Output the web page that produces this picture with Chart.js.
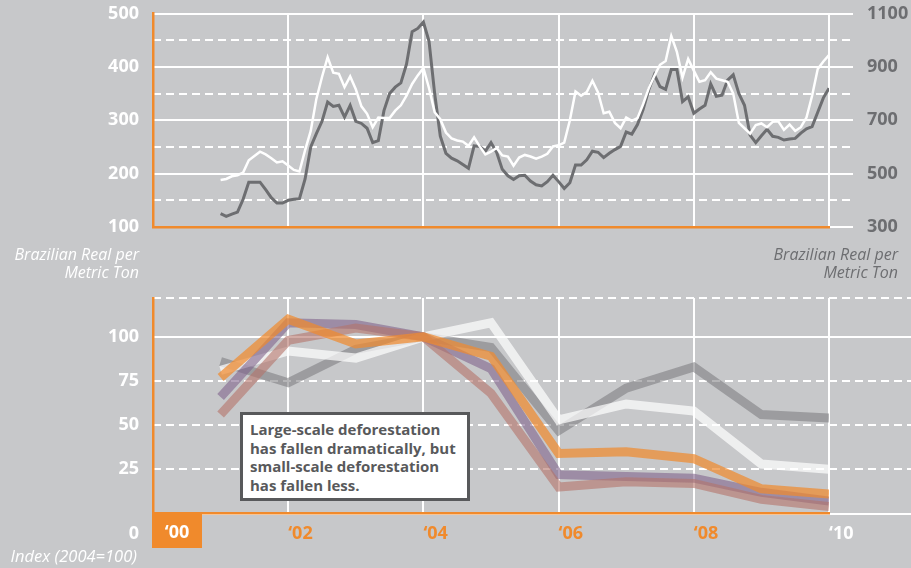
<!DOCTYPE html>
<html>
<head>
<meta charset="utf-8">
<title>Prices and deforestation</title>
<script src="https://cdn.jsdelivr.net/npm/chart.js@4.4.1/dist/chart.umd.min.js"></script>
<style>
  body { margin: 0; background: #c7c8ca; font-family: "Open Sans", sans-serif; }
  #page { position: relative; width: 911px; height: 568px; overflow: hidden; }
  canvas { position: absolute; left: 0; }
  #prices { top: 0; }
  #index { top: 290px; }
  .unit { position: absolute; font-style: italic; font-weight: 400; font-size: 16px; line-height: 18px; text-align: right; white-space: nowrap; }
  #unit-left { right: 772px; top: 245px; color: #fff; }
  #unit-right { right: 13px; top: 245px; color: #6d6e71; }
  #unit-index { right: 774px; top: 547px; color: #fff; font-size: 16.5px; }
  #zero { position: absolute; right: 772px; top: 521px; color: #fff; font-weight: 700; font-size: 18px; line-height: 22px; }
  #start-year { position: absolute; left: 152px; top: 514px; width: 50px; height: 34px; background: #f08a2c; color: #fff; font-weight: 700; font-size: 18px; line-height: 34px; text-align: center; }
  #note { position: absolute; left: 240px; top: 412px; width: 230px; height: 89px; box-sizing: border-box; border: 3px solid #58595b; background: #fff; color: #58595b; font-weight: 700; font-size: 15px; line-height: 18.5px; padding: 5px 0 0 7px; white-space: nowrap; }
</style>
</head>
<body>
<div id="page">
  <canvas id="prices" width="911" height="290"></canvas>
  <canvas id="index" width="911" height="278"></canvas>
  <div class="unit" id="unit-left">Brazilian Real per<br>Metric Ton</div>
  <div class="unit" id="unit-right">Brazilian Real per<br>Metric Ton</div>
  <div class="unit" id="unit-index">Index (2004=100)</div>
  <div id="zero">0</div>
  <div id="start-year">‘00</div>
  <div id="note">Large-scale deforestation<br>has fallen dramatically, but<br>small-scale deforestation<br>has fallen less.</div>
</div>
<script>
// monthly prices, first value is January 2001
const priceStartYear = 2001;
const priceWhite = [
  188, 190, 195, 197, 202, 225, 233, 241, 236, 229, 221, 223,
  215, 207, 204, 244, 280, 340, 381, 418, 389, 387, 362, 382,
  358, 326, 312, 287, 305, 304, 304, 318, 328, 346, 368, 384,
  398, 360, 315, 302, 277, 266, 262, 260, 252, 268, 251, 236,
  241, 248, 234, 232, 215, 230, 235, 232, 228, 232, 237, 251,
  253, 258, 300, 354, 346, 353, 374, 352, 313, 316, 295, 285,
  305, 299, 304, 330, 360, 383, 404, 411, 458, 428, 380, 415,
  393, 372, 375, 390, 378, 375, 372, 350, 295, 285, 275, 291,
  294, 287, 297, 298, 282, 292, 280, 287, 305, 346, 396, 410,
  422
];
const priceGrey = [
  350, 340, 348, 356, 404, 468, 468, 468, 440, 410, 390, 390,
  400, 404, 406, 480, 600, 650, 696, 768, 752, 756, 712, 756,
  696, 688, 670, 616, 624, 736, 800, 824, 840, 910, 1032, 1044,
  1068, 996, 800, 640, 576, 558, 548, 534, 520, 604, 602, 584,
  616, 580, 516, 492, 478, 492, 494, 472, 458, 454, 470, 494,
  470, 444, 466, 532, 532, 552, 584, 580, 560, 576, 590, 602,
  656, 648, 684, 740, 814, 870, 826, 816, 890, 890, 770, 788,
  726, 742, 756, 836, 790, 794, 850, 870, 800, 756, 644, 616,
  642, 666, 640, 636, 626, 630, 632, 652, 668, 676, 730, 784,
  820
];
const leftLabels = [100, 200, 300, 400, 500];
const rightLabels = [300, 500, 700, 900, 1100];

// deforestation index, 2004 = 100
const years = [2001, 2002, 2003, 2004, 2005, 2006, 2007, 2008, 2009, 2010];
const seriesGrey = [86, 74, 93, 100, 94, 47, 71, 83, 56, 54];
const seriesLight = [81, 92, 88, 100, 108, 53, 62, 58, 28, 25];
const seriesOrange = [77, 110, 96, 100, 89, 34, 35, 31, 14, 11];
const seriesPurple = [66, 108, 107, 100, 82, 22, 21, 20, 12, 7];
const seriesBrown = [56, 98, 105, 100, 68, 15, 18, 17, 8, 4];
const indexLabels = [25, 50, 75, 100];
const yearLabels = { 2002: '‘02', 2004: '‘04', 2006: '‘06', 2008: '‘08', 2010: '‘10' };

const ORANGE = '#f08a2c';
const DARK = '#6d6e71';
const DASH = [8, 5];

Chart.defaults.font.family = '"Open Sans", sans-serif';
Chart.defaults.animation = false;

// force exact axis sizes so both panels share the same plot box
function boxSize(size) {
  return scale => {
    if (scale.isHorizontal()) scale.height = size;
    else scale.width = size;
    scale.paddingTop = 0;
    scale.paddingBottom = 0;
    scale.paddingLeft = 0;
    scale.paddingRight = 0;
  };
}

const tickFont = { size: 18, weight: '700' };
const noPlugins = { legend: { display: false }, tooltip: { enabled: false } };

new Chart(document.getElementById('prices'), {
  type: 'line',
  data: {
    datasets: [
      {
        data: priceWhite.map((v, i) => ({ x: priceStartYear + i / 12, y: v })),
        yAxisID: 'yLeft',
        borderColor: '#ffffff',
        borderWidth: 2.5
      },
      {
        data: priceGrey.map((v, i) => ({ x: priceStartYear + i / 12, y: v })),
        yAxisID: 'yRight',
        borderColor: DARK,
        borderWidth: 3
      }
    ]
  },
  options: {
    responsive: false,
    events: [],
    layout: { padding: { top: 13.5 } },
    elements: { point: { radius: 0 }, line: { tension: 0 } },
    plugins: noPlugins,
    scales: {
      x: {
        type: 'linear', min: 2000, max: 2010,
        ticks: { display: false, stepSize: 2 },
        grid: { color: '#ffffff', lineWidth: 2, drawTicks: false },
        border: { color: ORANGE, width: 2.5 },
        afterFit: boxSize(63)
      },
      yLeft: {
        position: 'left', min: 100, max: 500,
        ticks: {
          stepSize: 50, padding: 14, color: '#ffffff', font: tickFont,
          callback: v => leftLabels.includes(v) ? String(v) : ''
        },
        grid: { display: false, drawTicks: false },
        border: { color: ORANGE, width: 2.5 },
        afterFit: boxSize(153)
      },
      yRight: {
        position: 'right', min: 300, max: 1100,
        ticks: {
          stepSize: 100, padding: 14, color: DARK, font: tickFont,
          callback: v => rightLabels.includes(v) ? String(v) : ''
        },
        grid: {
          color: '#ffffff', lineWidth: 2, tickLength: 24, tickColor: '#ffffff', tickWidth: 2,
          tickBorderDash: c => c.tick && c.tick.value % 200 === 0 ? DASH : []
        },
        border: { display: false, dash: c => c.tick && c.tick.value % 200 === 0 ? DASH : [] },
        afterFit: boxSize(82)
      }
    }
  }
});

const thick = (color, values) => ({
  data: values.map((v, i) => ({ x: years[i], y: v })),
  borderColor: color,
  borderWidth: 9,
  borderJoinStyle: 'miter',
  borderCapStyle: 'butt'
});

const dashedIndex = c => c.tick && c.tick.value !== 100 && c.tick.value !== 0 ? DASH : [];

new Chart(document.getElementById('index'), {
  type: 'line',
  data: {
    datasets: [
      thick('rgba(240,138,47,0.72)', seriesOrange),
      thick('rgba(180,115,105,0.6)', seriesBrown),
      thick('rgba(128,100,140,0.6)', seriesPurple),
      thick('rgba(255,255,255,0.7)', seriesLight),
      thick('rgba(120,121,124,0.55)', seriesGrey)
    ]
  },
  options: {
    responsive: false,
    events: [],
    layout: { padding: { top: 8 } },
    elements: { point: { radius: 0 }, line: { tension: 0 } },
    plugins: noPlugins,
    scales: {
      x: {
        type: 'linear', min: 2000, max: 2010,
        ticks: {
          stepSize: 2, align: 'start', padding: 10, font: tickFont,
          color: c => c.tick && c.tick.value === 2010 ? '#ffffff' : ORANGE,
          callback: v => yearLabels[v] || ''
        },
        grid: { color: '#ffffff', lineWidth: 2, drawTicks: false },
        border: { color: ORANGE, width: 2.5 },
        afterFit: boxSize(54.5)
      },
      y: {
        position: 'left', min: 0, max: 122,
        ticks: {
          stepSize: 25, padding: 14, color: '#ffffff', font: tickFont,
          callback: v => indexLabels.includes(v) ? String(v) : ''
        },
        grid: { display: false, drawTicks: false },
        border: { color: ORANGE, width: 2.5 },
        afterFit: boxSize(153)
      },
      yGrid: {
        position: 'right', min: 0, max: 122,
        ticks: { stepSize: 25, display: false },
        grid: {
          color: '#ffffff', lineWidth: 2, tickLength: 82, tickColor: '#ffffff', tickWidth: 2,
          tickBorderDash: dashedIndex
        },
        border: { display: false, dash: dashedIndex },
        afterFit: boxSize(82)
      }
    }
  }
});
</script>
</body>
</html>
